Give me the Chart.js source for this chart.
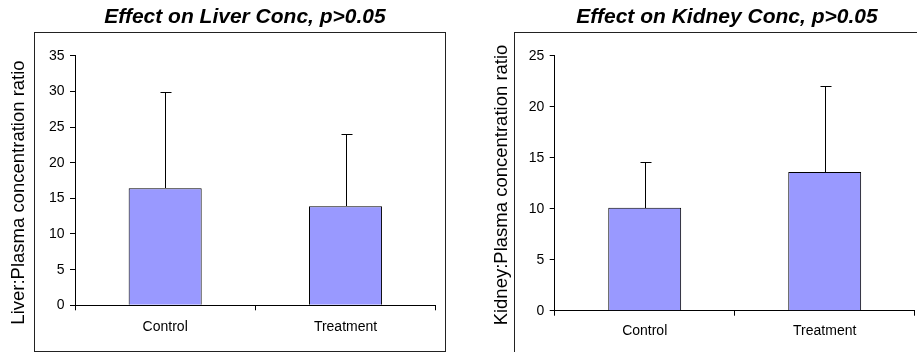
<!DOCTYPE html>
<html>
<head>
<meta charset="utf-8">
<script src="https://cdn.jsdelivr.net/npm/chart.js@4.4.1/dist/chart.umd.min.js"></script>
<style>
  html, body { margin: 0; padding: 0; background: #fff; overflow: hidden; }
  body { width: 917px; height: 352px; position: relative; }
  .frame { position: absolute; box-sizing: border-box; border: 1px solid #222; }
  canvas { position: absolute; top: 0; }
</style>
</head>
<body>
<div class="frame" style="left:34px; top:32px; width:412px; height:320px;"></div>
<div class="frame" style="left:514px; top:32px; width:480px; height:400px;"></div>
<canvas id="liverChart" width="458" height="352" style="left:0"></canvas>
<canvas id="kidneyChart" width="458" height="352" style="left:459px"></canvas>
<script>
const groups = ['Control', 'Treatment'];

const liverMeans = [16.4, 13.9];
const liverErrors = [13.5, 10.1];
const liverTicks = [0, 5, 10, 15, 20, 25, 30, 35];

const kidneyMeans = [10.1, 13.6];
const kidneyErrors = [4.5, 8.4];
const kidneyTicks = [0, 5, 10, 15, 20, 25];

const FONT = "'Liberation Sans', Arial, sans-serif";
Chart.defaults.font.family = FONT;
Chart.defaults.color = '#000';

// upper error bar with a short cap on top of each bar
const errorBars = {
  id: 'errorBars',
  afterDatasetsDraw(chart, args, opts) {
    const { ctx } = chart;
    const yScale = chart.scales.y;
    const values = chart.data.datasets[0].data;
    const errs = opts.errors || [];
    ctx.save();
    ctx.strokeStyle = '#000';
    ctx.lineWidth = 1;
    chart.getDatasetMeta(0).data.forEach((bar, i) => {
      const x = Math.round(bar.x) + 0.5;
      const yTop = Math.round(yScale.getPixelForValue(values[i] + errs[i])) + 0.5;
      ctx.beginPath();
      ctx.moveTo(x, Math.round(bar.y));
      ctx.lineTo(x, yTop);
      ctx.moveTo(x - 5, yTop);
      ctx.lineTo(x + 6, yTop);
      ctx.stroke();
    });
    ctx.restore();
  }
};

// heading above the frame and the rotated y axis caption
const captions = {
  id: 'captions',
  afterDraw(chart, args, opts) {
    const { ctx } = chart;
    ctx.save();
    ctx.fillStyle = '#000';
    ctx.textAlign = 'center';
    ctx.textBaseline = 'middle';

    ctx.font = 'italic bold 21px ' + FONT;
    ctx.fillText(opts.title, opts.titleX, opts.titleY);

    ctx.translate(opts.axisX, opts.axisY);
    ctx.rotate(-Math.PI / 2);
    ctx.font = '18.5px ' + FONT;
    ctx.fillText(opts.axisTitle, 0, 0);
    ctx.restore();
  }
};

function drawPanel(canvasId, title, axisTitle, means, errors, ticks, box) {
  return new Chart(document.getElementById(canvasId), {
    type: 'bar',
    data: {
      labels: groups,
      datasets: [{
        data: means,
        backgroundColor: '#9999ff',
        borderColor: '#000',
        borderWidth: 1,
        categoryPercentage: 1,
        barPercentage: 0.405
      }]
    },
    options: {
      responsive: false,
      animation: false,
      devicePixelRatio: 1,
      layout: { padding: { left: 0, right: box.padRight, top: 55.7, bottom: 0 } },
      plugins: {
        legend: { display: false },
        tooltip: { enabled: false },
        errorBars: { errors: errors },
        captions: {
          title: title, titleX: box.titleX, titleY: 17.7,
          axisTitle: axisTitle, axisX: box.axisX, axisY: box.axisY
        }
      },
      scales: {
        x: {
          grid: { offset: true, drawOnChartArea: false, tickLength: 5, color: '#000' },
          border: { color: '#000' },
          ticks: { font: { size: 14 }, padding: box.xPad, color: '#000' },
          afterFit: s => { s.height = box.xHeight; }
        },
        y: {
          min: ticks[0],
          max: ticks[ticks.length - 1],
          afterBuildTicks: s => { s.ticks = ticks.map(v => ({ value: v })); },
          grid: { drawOnChartArea: false, tickLength: 5, color: '#000' },
          border: { color: '#000' },
          ticks: { font: { size: 14 }, padding: 5.5, color: '#000' },
          afterFit: s => { s.width = box.yWidth; }
        }
      }
    },
    plugins: [errorBars, captions]
  });
}

drawPanel('liverChart', 'Effect on Liver Conc, p>0.05', 'Liver:Plasma concentration ratio',
  liverMeans, liverErrors, liverTicks,
  { padRight: 22.3, yWidth: 75, xHeight: 46.7, xPad: 8, titleX: 245, axisX: 19, axisY: 192.5 });

drawPanel('kidneyChart', 'Effect on Kidney Conc, p>0.05', 'Kidney:Plasma concentration ratio',
  kidneyMeans, kidneyErrors, kidneyTicks,
  { padRight: 2.3, yWidth: 95.7, xHeight: 41.3, xPad: 7, titleX: 268, axisX: 43, axisY: 185 });
</script>
</body>
</html>
